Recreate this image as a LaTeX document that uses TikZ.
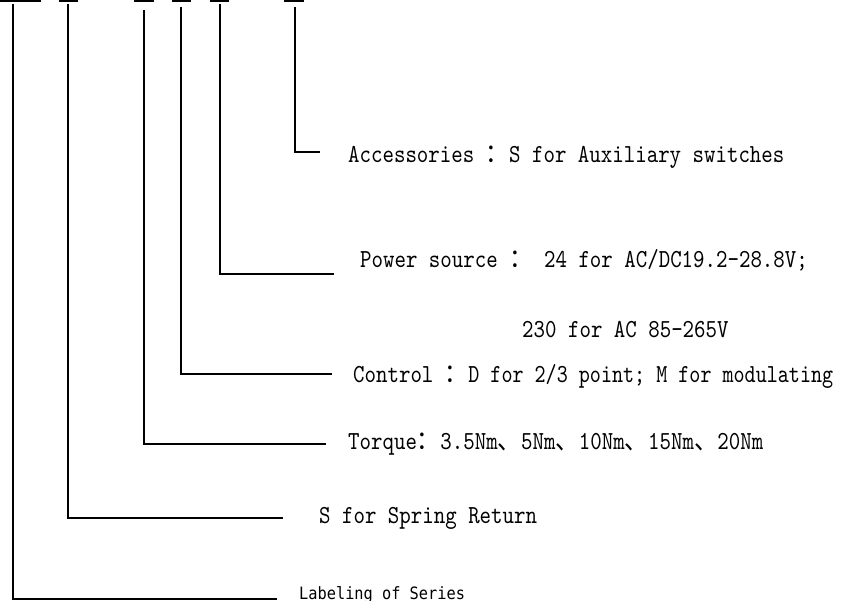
\documentclass[tikz,border=0pt]{standalone}
\usepackage{fontspec}
\usetikzlibrary{positioning}
\newfontfamily\codefont[FakeStretch=0.84]{lmmono10-regular.otf}
\newfontfamily\codefontn[FakeStretch=0.81]{lmmono10-regular.otf}
\newfontfamily\cjkfont[FakeStretch=0.9]{Noto Sans CJK SC}
\newfontfamily\seriesfont[FakeStretch=0.9]{DejaVu Sans Mono}
\newcommand{\fw}[1]{{\cjkfont #1}}

\begin{document}
\begin{tikzpicture}[x=1pt,y=-1pt,
  lbl/.style={anchor=base west,inner sep=0pt,font=\codefont\fontsize{26}{28}\selectfont},
  serieslbl/.style={anchor=base west,inner sep=0pt,font=\seriesfont\fontsize{17}{19}\selectfont},
  lead/.style={line width=2.3pt,line join=miter}
]
\useasboundingbox (0,0) rectangle (852,601);

\foreach \a/\b in {0/41,59/78,134/154,172/191,210/229,284/304}
  \fill (\a,0) rectangle (\b,2.5);

\coordinate (seriesT) at (13,4);   \coordinate (seriesE) at (277,599);
\coordinate (springT) at (68,4);   \coordinate (springE) at (283,518);
\coordinate (torqueT) at (144,10); \coordinate (torqueE) at (326,444);
\coordinate (ctrlT)   at (181,7);  \coordinate (ctrlE)   at (332,374);
\coordinate (powerT)  at (220,4);  \coordinate (powerE)  at (334,274);
\coordinate (accT)    at (295,7);  \coordinate (accE)    at (320,152);

\node[lbl] (acctext)    at (348,163) {Accessories \fw{：}S for Auxiliary switches};
\node[lbl] (powertext)  at (360,268) {Power source \fw{：}  24 for AC/DC19.2-28.8V;};
\node[lbl] (power2text) at (522,338) {230 for AC 85-265V};
\node[lbl] (ctrltext)   at (353,383) {Control \fw{：}{\codefontn D for 2/3 point; M for modulating}};
\node[lbl] (torquetext) at (348,450) {Torque\fw{：}3.5Nm\fw{、}5Nm\fw{、}10Nm\fw{、}15Nm\fw{、}20Nm};
\node[lbl] (springtext) at (319,524) {S for Spring Return};
\node[serieslbl] (seriestext) at (299,599) {Labeling of Series};

\draw[lead] (accT) |- (accE);
\draw[lead] (powerT) |- (powerE);
\draw[lead] (ctrlT) |- (ctrlE);
\draw[lead] (torqueT) |- (torqueE);
\draw[lead] (springT) |- (springE);
\draw[lead] (seriesT) |- (seriesE);
\end{tikzpicture}
\end{document}
